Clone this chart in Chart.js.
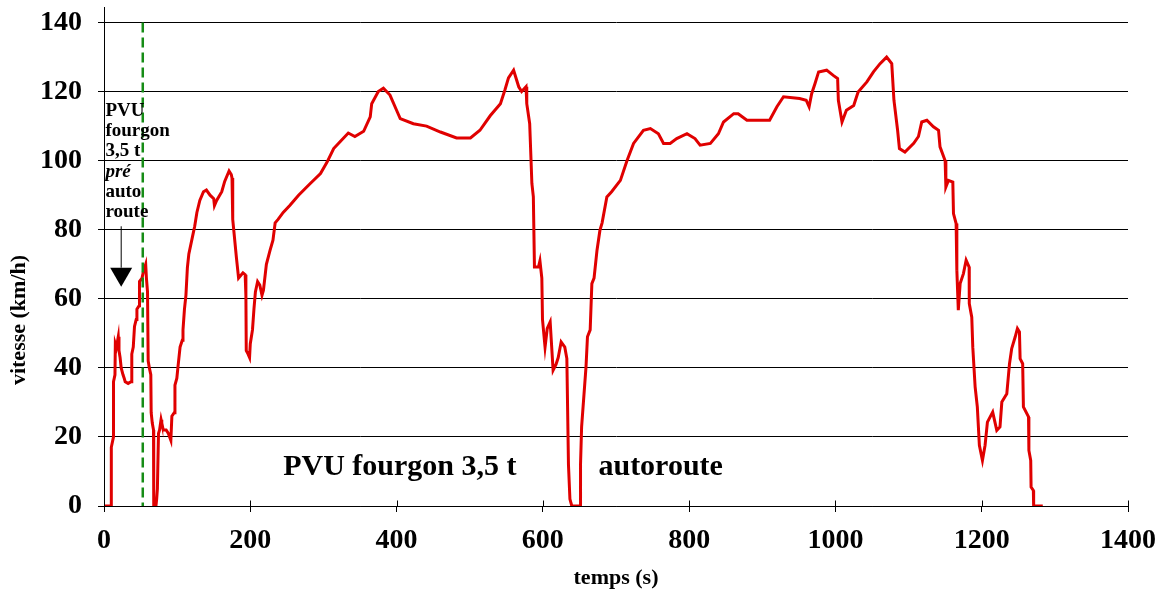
<!DOCTYPE html>
<html>
<head>
<meta charset="utf-8">
<script src="https://cdn.jsdelivr.net/npm/chart.js@4.4.1/dist/chart.umd.min.js"></script>
<style>
  body { margin: 0; background: #fff; }
  canvas { display: block; }
</style>
</head>
<body>
<canvas id="speedChart" width="1159" height="597"></canvas>
<script>
// speed trace (time in s, speed in km/h)
const timeS = [
  0, 10, 10, 13, 13, 15, 15.5, 17, 19.5, 20.5, 22, 23.5, 26, 27.6, 29, 33, 37, 38, 40, 41.7,
  44, 45, 48, 48.5, 52, 54, 57, 58, 59.5, 60.4, 62, 64, 64.5, 66, 67.7, 68, 71, 72, 73, 74.5,
  76, 78, 79, 81, 85, 88, 91.4, 92.8, 96, 97, 99.6, 101, 104, 107, 108, 110, 112, 113, 114, 116,
  121, 124, 127, 131, 136, 140, 145, 150, 151, 154, 161, 165, 171, 174, 175, 176, 181, 184, 190, 193,
  194, 194.5, 197, 199, 200, 203, 205, 207, 210, 213, 216, 218, 222, 227, 231, 234, 238, 245, 254, 266,
  282, 296, 305, 314, 325, 334, 343, 355, 364, 366, 375, 382, 391, 400, 405, 423, 441, 460, 482, 501,
  514, 528, 542, 548, 553, 560, 567, 571, 577, 578, 582, 585, 587, 588.5, 594, 596, 598.6, 599.5, 603, 606,
  610, 614, 618, 621, 625, 630, 632.8, 635, 637, 639.6, 651, 651.5, 653, 659, 661, 664.7, 667, 670, 674, 678,
  681, 687.5, 694, 706, 715, 724, 737.5, 747, 758, 765, 774, 783, 797, 808, 815, 829, 840, 847, 861, 867,
  879, 910, 920, 929, 951, 960, 964, 967.5, 972, 977, 988, 997, 1003, 1004, 1009, 1015, 1025, 1031, 1043, 1052,
  1061, 1070, 1077, 1080, 1085, 1087.5, 1095, 1107, 1113.5, 1118, 1125, 1134, 1141, 1143, 1150, 1151, 1154.5, 1160.5, 1161.4, 1165,
  1166, 1168, 1170.5, 1175, 1178.7, 1182.8, 1183, 1186.4, 1187.8, 1191, 1194, 1196.8, 1201, 1204.6, 1207.8, 1215, 1220.6, 1225, 1227.5, 1234.3,
  1238, 1241, 1245.8, 1248.8, 1251.6, 1252.5, 1256, 1257, 1264, 1264.5, 1267, 1267.5, 1270.6, 1271, 1283.5
];
const speedKmh = [
  0, 0, 17, 20, 36, 38, 47, 46, 49, 45, 43, 40, 38, 37, 36, 35.5, 36, 44, 46, 52,
  54, 57, 58, 65, 66, 68, 70, 66, 62, 42, 40, 38, 27, 24, 22, 0, 0, 2, 5, 21,
  22, 25, 24, 22, 22, 21, 19, 26, 27, 35, 37, 40, 46, 48, 51, 57, 61, 65, 69, 73,
  78, 81, 85, 88.5, 91, 91.5, 90, 89, 87, 88.5, 91, 94, 97, 96, 95, 83, 72, 66, 67.5, 67,
  61, 45, 44, 43, 47, 51, 57, 62, 65, 64, 61, 62.5, 70, 74, 77, 82, 83, 85, 87, 90,
  93.4, 96.3, 99.6, 103.5, 106, 108, 107, 108.5, 112.7, 116.5, 120, 121, 119, 114.6, 112.2, 110.7, 110, 108.3, 106.6, 106.6,
  108.8, 113, 116.5, 120.4, 124, 126.2, 121.4, 120, 121.4, 116.5, 110.7, 93.4, 89.5, 69.2, 69.2, 71, 66, 54, 46, 51.4,
  53.3, 39.3, 41, 43, 47.5, 46, 42.7, 12, 2, 0, 0, 12, 23, 40.3, 49, 51, 64.4, 66, 74, 79.8,
  82, 89.5, 91, 94.3, 100, 105, 108.8, 109.3, 107.8, 105, 105, 106.4, 107.8, 106.4, 104.5, 105, 107.8, 111.2, 113.6, 113.6,
  111.7, 111.7, 115.6, 118.5, 118, 117.5, 115.6, 119.4, 122.3, 125.7, 126.2, 124.7, 123.8, 117.5, 111.2, 114.6, 116, 119.9, 122.8, 125.7,
  128.1, 130, 128.1, 117.5, 108.8, 103.5, 102.5, 105, 107, 111.2, 111.7, 109.8, 108.8, 104, 100, 92.4, 94.3, 93.8, 84.7, 81.8,
  68.3, 56.7, 64.4, 67.3, 71.2, 69.2, 58.6, 54.7, 46, 34.5, 28.7, 17.6, 13.2, 17.6, 24.3, 27.2, 21.9, 22.9, 30.1, 32.5,
  41.2, 45.6, 49, 51.4, 50.4, 42.7, 41.2, 28.7, 25.8, 16.1, 13.2, 5.5, 4.5, 0, 0
];
const xTickValues = [0, 200, 400, 600, 800, 1000, 1200, 1400];
const yTickValues = [0, 20, 40, 60, 80, 100, 120, 140];
const phaseStartS = 53; // end of the "pré autoroute" part
const sideNoteLines = ['PVU', 'fourgon', '3,5 t', 'pré', 'auto', 'route'];

const serif = "'Liberation Serif', 'Times New Roman', serif";

const overlayPlugin = {
  id: 'overlay',
  afterDatasetsDraw(chart) {
    const { ctx, scales: { x, y } } = chart;
    ctx.save();

    // green dashed marker
    const gx = x.getPixelForValue(phaseStartS);
    ctx.strokeStyle = '#168c16';
    ctx.lineWidth = 2.5;
    ctx.setLineDash([10, 5]);
    ctx.beginPath();
    ctx.moveTo(gx, y.getPixelForValue(140));
    ctx.lineTo(gx, y.getPixelForValue(0));
    ctx.stroke();
    ctx.setLineDash([]);

    // x ticks also poke up into the plot
    ctx.strokeStyle = '#000';
    ctx.lineWidth = 1;
    const y0 = Math.round(y.getPixelForValue(0)) + 0.5;
    xTickValues.forEach(v => {
      const px = Math.round(x.getPixelForValue(v)) + 0.5;
      ctx.beginPath();
      ctx.moveTo(px, y0 - 6);
      ctx.lineTo(px, y0);
      ctx.stroke();
    });

    // side note with arrow
    ctx.fillStyle = '#000';
    ctx.textAlign = 'left';
    ctx.textBaseline = 'alphabetic';
    const nx = x.getPixelForValue(2);
    let ny = y.getPixelForValue(113);
    sideNoteLines.forEach(line => {
      ctx.font = (line === 'pré' ? 'italic bold 19px ' : 'bold 19px ') + serif;
      ctx.fillText(line, nx, ny);
      ny += 20.3;
    });
    const ax = x.getPixelForValue(23.5);
    ctx.beginPath();
    ctx.moveTo(ax, y.getPixelForValue(81));
    ctx.lineTo(ax, y.getPixelForValue(69));
    ctx.stroke();
    ctx.beginPath();
    ctx.moveTo(ax - 11, y.getPixelForValue(69));
    ctx.lineTo(ax + 11, y.getPixelForValue(69));
    ctx.lineTo(ax, y.getPixelForValue(63.5));
    ctx.closePath();
    ctx.fill();

    // caption inside the plot
    ctx.font = 'bold 30px ' + serif;
    ctx.fillText('PVU fourgon 3,5 t', x.getPixelForValue(245), y.getPixelForValue(9));
    ctx.fillText('autoroute', x.getPixelForValue(676), y.getPixelForValue(9));

    // y axis title
    ctx.font = 'bold 22px ' + serif;
    ctx.textAlign = 'center';
    ctx.textBaseline = 'middle';
    ctx.translate(19, 320);
    ctx.rotate(-Math.PI / 2);
    ctx.fillText('vitesse (km/h)', 0, 0);

    ctx.restore();
  }
};

const ctx = document.getElementById('speedChart').getContext('2d');
new Chart(ctx, {
  type: 'line',
  data: {
    datasets: [{
      data: timeS.map((t, i) => ({ x: t, y: speedKmh[i] })),
      borderColor: '#e00000',
      borderWidth: 3,
      pointRadius: 0,
      tension: 0,
      fill: false
    }]
  },
  options: {
    responsive: false,
    animation: false,
    devicePixelRatio: 1,
    layout: { padding: { top: 7, right: 31, left: 0, bottom: 0 } },
    plugins: { legend: { display: false }, tooltip: { enabled: false } },
    scales: {
      x: {
        type: 'linear',
        min: 0,
        max: 1400,
        afterBuildTicks: s => { s.ticks = xTickValues.map(v => ({ value: v })); },
        afterFit: s => { s.height = 91; s.paddingLeft = 0; s.paddingRight = 0; },
        ticks: {
          color: '#000', padding: 12, maxRotation: 0,
          callback: v => String(v),
          font: { family: serif, size: 28, weight: 'bold' }
        },
        grid: { drawOnChartArea: false, tickLength: 6, color: '#000' },
        border: { color: '#000', width: 1 },
        title: {
          display: true,
          text: 'temps (s)',
          color: '#000',
          padding: { top: 0, bottom: 5 },
          font: { family: serif, size: 22, weight: 'bold' }
        }
      },
      y: {
        min: 0,
        max: 144.5,
        afterBuildTicks: s => { s.ticks = yTickValues.map(v => ({ value: v })); },
        afterFit: s => { s.width = 104; s.paddingTop = 0; s.paddingBottom = 0; },
        ticks: { color: '#000', padding: 16, font: { family: serif, size: 28, weight: 'bold' } },
        grid: { color: '#000', lineWidth: 1, tickLength: 6 },
        border: { color: '#000', width: 1 }
      }
    }
  },
  plugins: [overlayPlugin]
});
</script>
</body>
</html>
